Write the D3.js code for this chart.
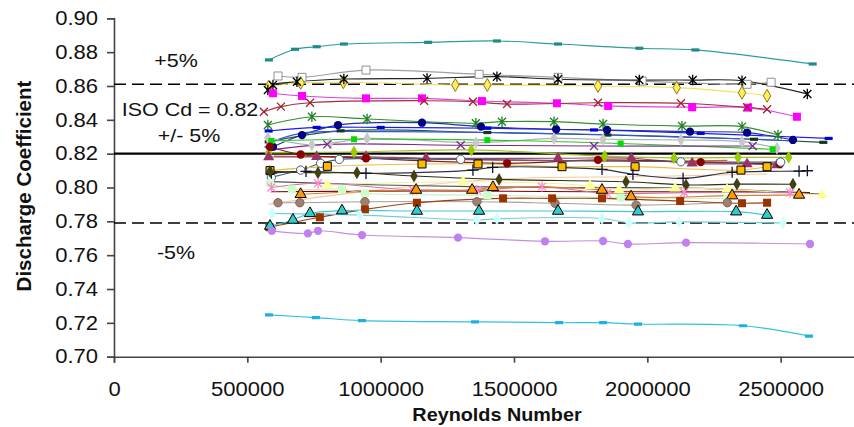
<!DOCTYPE html>
<html>
<head>
<meta charset="utf-8">
<script src="https://cdnjs.cloudflare.com/ajax/libs/d3/7.8.5/d3.min.js"></script>
<style>
  body { margin: 0; background: #fff; }
  svg { display: block; font-family: "Liberation Sans", Arial, sans-serif; }
</style>
</head>
<body>
<div class="plot"></div>
<script>
var W = 854, H = 427;
var m = {t: 18.3, l: 114, b: 70.3};

// tick labels
var yTicks = [0.70, 0.72, 0.74, 0.76, 0.78, 0.80, 0.82, 0.84, 0.86, 0.88, 0.90];
var xTicks = [0, 500000, 1000000, 1500000, 2000000, 2500000];

// reference lines: ISO Cd and +/- 5%
var isoCd = 0.82;
var bandUpper = 0.861, bandLower = 0.779;

// one array per test run: [Reynolds number, discharge coefficient]
var teal = [[581e3,.8754],[679e3,.8817],[760e3,.8832],[862e3,.8848],[1178e3,.8858],[1436e3,.8866],[1665e3,.8848],[1970e3,.8823],[2180e3,.8813],[2620e3,.873]];
var grayOpen = [[615e3,.8659],[705e3,.8651],[945e3,.8694],[1369e3,.8669],[1665e3,.8651],[1980e3,.8629],[2374e3,.861],[2464e3,.8622]];
var blackStar = [[577e3,.8576],[596e3,.8606],[686e3,.8625],[862e3,.8641],[1174e3,.8645],[1436e3,.8655],[1665e3,.864],[1970e3,.8635],[2170e3,.8635],[2355e3,.8631],[2600e3,.8553]];
var yellowDia = [[580e3,.8596],[700e3,.8618],[860e3,.8622],[1280e3,.8606],[1400e3,.8606],[1815e3,.860],[2110e3,.859],[2355e3,.856],[2449e3,.8542]];
var magentaSq = [[596e3,.8557],[705e3,.8541],[945e3,.8527],[1155e3,.8527],[1380e3,.8511],[1661e3,.8498],[1853e3,.8482],[2168e3,.8474],[2378e3,.8472],[2561e3,.8418]];
var redX = [[562e3,.8448],[626e3,.8478],[735e3,.8501],[1163e3,.8513],[1346e3,.8507],[1474e3,.8493],[1815e3,.8501],[2126e3,.8498],[2374e3,.8474],[2449e3,.8462]];
var greenStar = [[577e3,.8369],[742e3,.8418],[949e3,.8405],[1357e3,.838],[1455e3,.8389],[1650e3,.8389],[1834e3,.8375],[2130e3,.8363],[2355e3,.836],[2490e3,.831]];
var blueA = [[580e3,.8334],[760e3,.8355],[1000e3,.8355],[1400e3,.835],[1800e3,.834],[2200e3,.832],[2680e3,.829]];
var darkGreen = [[580e3,.827],[850e3,.8335],[1400e3,.8325],[1850e3,.831],[2400e3,.8285],[2660e3,.8267]];
var navyCirc = [[596e3,.8241],[705e3,.831],[840e3,.8369],[1155e3,.8383],[1376e3,.836],[1658e3,.8344],[1849e3,.834],[2160e3,.833],[2374e3,.8324],[2546e3,.8281]];
var blueB = [[575e3,.826],[700e3,.832],[1000e3,.833],[1400e3,.8325],[1900e3,.831],[2400e3,.8285],[2560e3,.8275]];
var grayDia = [[577e3,.8293],[742e3,.8251],[810e3,.8261],[949e3,.829],[1357e3,.8265],[1650e3,.829],[1834e3,.8285],[2126e3,.8281],[2355e3,.8271],[2486e3,.8232]];
var limeSq = [[590e3,.8275],[900e3,.8285],[1400e3,.828],[1900e3,.826],[2470e3,.8226]];
var purple = [[580e3,.822],[800e3,.8255],[1300e3,.825],[1800e3,.8245],[2395e3,.8245]];
var olivegreenDia = [[580e3,.8205],[900e3,.821],[1340e3,.8222],[1840e3,.8185],[2100e3,.8175],[2340e3,.8178],[2530e3,.8178]];
var orangeRed = [[600e3,.8185],[1000e3,.8175],[1500e3,.816],[2000e3,.8155],[2300e3,.816]];
var mauveTri = [[580e3,.818],[760e3,.8182],[945e3,.8182],[1170e3,.8173],[1665e3,.8173],[1940e3,.8173],[2168e3,.8143],[2374e3,.8139],[2486e3,.8133]];
var maroonCirc = [[585e3,.8241],[700e3,.8195],[945e3,.8173],[1474e3,.8143],[1815e3,.8163],[2200e3,.815],[2497e3,.8139]];
var openCirc = [[590e3,.806],[700e3,.8103],[775e3,.8143],[845e3,.8166],[1300e3,.8166],[2126e3,.8152],[2500e3,.815]];
var goldSq = [[585e3,.810],[800e3,.8125],[1155e3,.8139],[1365e3,.8139],[1680e3,.8123],[1954e3,.8123],[2351e3,.8103],[2449e3,.8123]];
var blackPlus = [[590e3,.8085],[720e3,.8095],[945e3,.8084],[1346e3,.8103],[1420e3,.8119],[1830e3,.8107],[1946e3,.8078],[2134e3,.8054],[2318e3,.809],[2569e3,.8097],[2600e3,.8099]];
var peach = [[580e3,.790],[900e3,.797],[1450e3,.805],[2000e3,.8065],[2450e3,.808]];
var oliveDia = [[585e3,.8095],[765e3,.8087],[911e3,.8087],[1125e3,.8068],[1444e3,.8048],[1920e3,.8034],[2145e3,.8015],[2336e3,.802],[2546e3,.8019]];
var darkGray = [[590e3,.8035],[1000e3,.8015],[1600e3,.80],[2200e3,.7995],[2660e3,.796]];
var lightGreenSq = [[585e3,.8025],[667e3,.7989],[855e3,.799],[941e3,.7966],[1400e3,.7955],[1900e3,.794],[2300e3,.7935]];
var paleYellowTri = [[800e3,.8015],[1309e3,.8034],[1785e3,.801],[1894e3,.7985],[2104e3,.7995],[2299e3,.7989],[2655e3,.7955]];
var pinkStar = [[590e3,.80],[765e3,.8025],[1121e3,.7985],[1361e3,.7985],[1605e3,.8005],[1849e3,.7966],[2138e3,.797],[2535e3,.797]];
var maroonLine = [[590e3,.7975],[1200e3,.798],[1800e3,.7975],[2400e3,.7975],[2610e3,.797]];
var orangeTri = [[700e3,.796],[1133e3,.7985],[1343e3,.7985],[1421e3,.8001],[1830e3,.7985],[1939e3,.7946],[2318e3,.7952],[2569e3,.7956]];
var tanCirc = [[615e3,.791],[697e3,.791],[941e3,.7916],[1361e3,.7916],[1654e3,.7907],[1958e3,.7896],[2300e3,.791]];
var brownSq = [[583e3,.7765],[772e3,.7824],[941e3,.7871],[1136e3,.791],[1459e3,.7936],[1643e3,.7936],[1830e3,.7936],[2123e3,.792],[2355e3,.7907],[2449e3,.791]];
var paleCyanDia = [[592e3,.7847],[922e3,.7837],[1361e3,.7808],[1436e3,.7815],[1830e3,.7817],[1931e3,.7791],[2119e3,.7797],[2509e3,.7791]];
var cyanTri = [[585e3,.7772],[671e3,.7808],[735e3,.7847],[855e3,.7863],[1136e3,.7861],[1369e3,.7861],[1665e3,.7861],[1965e3,.7857],[2333e3,.7857],[2449e3,.7837]];
var lavenderCirc = [[592e3,.7744],[727e3,.7729],[765e3,.7744],[930e3,.7719],[1290e3,.7704],[1616e3,.7682],[1834e3,.7684],[1927e3,.7666],[2145e3,.7674],[2610e3,.7666]];
var cyanLow = [[581e3,.7247],[757e3,.7231],[930e3,.7213],[1354e3,.7206],[1669e3,.7201],[1834e3,.7201],[1965e3,.7193],[2359e3,.7183],[2606e3,.7122]];

// drawing style for each run (line colour, marker shape, marker fill, marker outline)
var series = [
  {d: peach,        c: '#f5c89a', mk: 'none'},
  {d: maroonLine,   c: '#800000', mk: 'none'},
  {d: darkGray,     c: '#555555', mk: 'none'},
  {d: teal,         c: '#2a9c9c', mk: 'dash', f: '#1f8a8a'},
  {d: grayOpen,     c: '#a0a0a0', mk: 'square', f: '#fff', s: '#909090'},
  {d: yellowDia,    c: '#f0e060', mk: 'diamond', f: '#ffee55', s: '#8a7a20'},
  {d: blackStar,    c: '#222222', mk: 'star', s: '#000'},
  {d: magentaSq,    c: '#e040e0', mk: 'square', f: '#ff00ff'},
  {d: redX,         c: '#a03040', mk: 'x', s: '#a02030'},
  {d: greenStar,    c: '#2f8f2f', mk: 'star', s: '#208020'},
  {d: blueA,        c: '#1a1aff', mk: 'dash', f: '#0000e0'},
  {d: darkGreen,    c: '#1d5a3a', mk: 'dash', f: '#103820'},
  {d: navyCirc,     c: '#2030a0', mk: 'circle', f: '#000080'},
  {d: blueB,        c: '#3355dd', mk: 'none'},
  {d: grayDia,      c: '#b0b0b0', mk: 'diamond', f: '#c8c8c8'},
  {d: limeSq,       c: '#30c030', mk: 'square', f: '#00dd00', small: true},
  {d: purple,       c: '#7a2a8a', mk: 'x', s: '#7a2a8a'},
  {d: olivegreenDia,c: '#a0c020', mk: 'diamond', f: '#99cc00'},
  {d: orangeRed,    c: '#e85a20', mk: 'none'},
  {d: mauveTri,     c: '#a04070', mk: 'triangle', f: '#993366'},
  {d: maroonCirc,   c: '#8a1a1a', mk: 'circle', f: '#8b0000'},
  {d: openCirc,     c: '#406080', mk: 'circle', f: '#fff', s: '#406080'},
  {d: goldSq,       c: '#e8c040', mk: 'square', f: '#ffbb00', s: '#000'},
  {d: blackPlus,    c: '#303048', mk: 'plus', s: '#101030'},
  {d: oliveDia,     c: '#303010', mk: 'diamond', f: '#404010'},
  {d: lightGreenSq, c: '#c8f0c8', mk: 'square', f: '#ccffcc'},
  {d: paleYellowTri,c: '#f0f0a0', mk: 'triangle', f: '#ffff99'},
  {d: pinkStar,     c: '#cc7799', mk: 'star', s: '#ff88cc'},
  {d: orangeTri,    c: '#d08030', mk: 'triangle', f: '#ff9900', s: '#000'},
  {d: tanCirc,      c: '#a0a0a0', mk: 'circle', f: '#a08070', s: '#806050'},
  {d: brownSq,      c: '#a04010', mk: 'square', f: '#993300'},
  {d: paleCyanDia,  c: '#70d0d8', mk: 'diamond', f: '#ccffff'},
  {d: cyanTri,      c: '#40c8d8', mk: 'triangle', f: '#33cccc', s: '#000'},
  {d: lavenderCirc, c: '#c090e0', mk: 'circle', f: '#c080f0'},
  {d: cyanLow,      c: '#30c0e0', mk: 'dash', f: '#20b0e0'}
];

var x = d3.scaleLinear().domain([0, 3000000]).range([m.l, m.l + 3000000 * 2.6667e-4]);
var y = d3.scaleLinear().domain([0.70, 0.90]).range([H - m.b, m.t]);

var svg = d3.select('.plot').append('svg')
    .attr('width', W)
    .attr('height', H);

svg.append('defs').append('clipPath').attr('id', 'clip')
  .append('rect').attr('x', m.l).attr('y', 0).attr('width', W - m.l).attr('height', H - m.b);

// axes
var sx = 1.13;
var yAxis = svg.append('g')
    .attr('transform', 'translate(' + m.l + ',0)')
    .call(d3.axisLeft(y).tickValues(yTicks).tickFormat(d3.format('.2f')).tickSize(7).tickPadding(9));
var xAxis = svg.append('g')
    .attr('transform', 'translate(0,' + (H - m.b) + ')')
    .call(d3.axisBottom(x).tickValues(xTicks).tickFormat(d3.format('d')).tickSize(6).tickPadding(19));

[yAxis, xAxis].forEach(function(a){
  a.selectAll('path, line').attr('stroke', '#444').attr('stroke-width', 1.6);
  a.selectAll('text')
    .attr('fill', '#111')
    .style('font-size', '19.5px')
    .style('font-family', '"Liberation Sans", Arial, sans-serif');
});
// labels in the picture are a little stretched sideways
yAxis.selectAll('text').attr('transform', 'scale(' + sx + ',1)').attr('x', -16 / sx);
xAxis.selectAll('text').attr('transform', 'scale(' + sx + ',1)');

var plot = svg.append('g').attr('clip-path', 'url(#clip)');

// reference lines
plot.append('line')
  .attr('x1', m.l).attr('x2', W).attr('y1', y(isoCd)).attr('y2', y(isoCd))
  .attr('stroke', '#000').attr('stroke-width', 2.2);
[bandUpper, bandLower].forEach(function(v){
  plot.append('line')
    .attr('x1', m.l).attr('x2', W).attr('y1', y(v)).attr('y2', y(v))
    .attr('stroke', '#000').attr('stroke-width', 1.4)
    .attr('stroke-dasharray', '12,6');
});

var line = d3.line()
    .x(function(d){ return x(d[0]); })
    .y(function(d){ return y(d[1]); })
    .curve(d3.curveCatmullRom.alpha(0.5));

function markerPath(type, r){
  switch (type) {
    case 'x': return 'M' + -r + ',' + -r + 'L' + r + ',' + r + 'M' + -r + ',' + r + 'L' + r + ',' + -r;
    case 'star': return 'M' + -r + ',' + -r + 'L' + r + ',' + r + 'M' + -r + ',' + r + 'L' + r + ',' + -r + 'M0,' + -r * 1.3 + 'V' + r * 1.3;
    case 'plus': return 'M' + -r * 1.4 + ',0H' + r * 1.4 + 'M0,' + -r * 1.4 + 'V' + r * 1.4;
    case 'dash': return 'M-4,-1.6H4V1.6H-4Z';
    case 'square': return d3.symbol().type(d3.symbolSquare).size(r * r * 4)();
    case 'circle': return d3.symbol().type(d3.symbolCircle).size(r * r * 3.4)();
    case 'triangle': return d3.symbol().type(d3.symbolTriangle).size(r * r * 3.4)();
    case 'diamond': return d3.symbol().type(d3.symbolDiamond).size(r * r * 3)();
  }
  return null;
}

series.forEach(function(sr){
  plot.append('path')
    .datum(sr.d)
    .attr('d', line)
    .attr('fill', 'none')
    .attr('stroke', sr.c)
    .attr('stroke-width', 1.15);
});

series.forEach(function(sr){
  if (sr.mk === 'none') return;
  var open = sr.mk === 'x' || sr.mk === 'star' || sr.mk === 'plus';
  var r = sr.small ? 3 : 4;
  plot.selectAll(null)
    .data(sr.d)
    .enter()
    .append('path')
    .attr('transform', function(d){ return 'translate(' + x(d[0]) + ',' + y(d[1]) + ')'; })
    .attr('d', markerPath(sr.mk, r))
    .attr('fill', open ? 'none' : sr.f)
    .attr('stroke', open ? sr.s : (sr.s || 'none'))
    .attr('stroke-width', open ? 1.3 : 1);
});

// annotations
function note(txt, cx, by, size){
  svg.append('text')
    .attr('transform', 'translate(' + cx + ',' + by + ') scale(' + sx + ',1)')
    .attr('text-anchor', 'middle')
    .style('font-size', (size || 19) + 'px')
    .attr('fill', '#111')
    .text(txt);
}
note('+5%', 176, 67);
note('ISO Cd = 0.82', 190, 116);
note('+/- 5%', 189, 142);
note('-5%', 176, 259);

// axis titles
svg.append('text')
  .attr('transform', 'translate(497,421) scale(1.1,1)')
  .attr('text-anchor', 'middle')
  .style('font-size', '18px')
  .style('font-weight', 'bold')
  .attr('fill', '#111')
  .text('Reynolds Number');
svg.append('text')
  .attr('transform', 'translate(31,186) rotate(-90)')
  .attr('text-anchor', 'middle')
  .style('font-size', '20.5px')
  .style('font-weight', 'bold')
  .attr('fill', '#111')
  .text('Discharge Coefficient');
</script>
</body>
</html>
